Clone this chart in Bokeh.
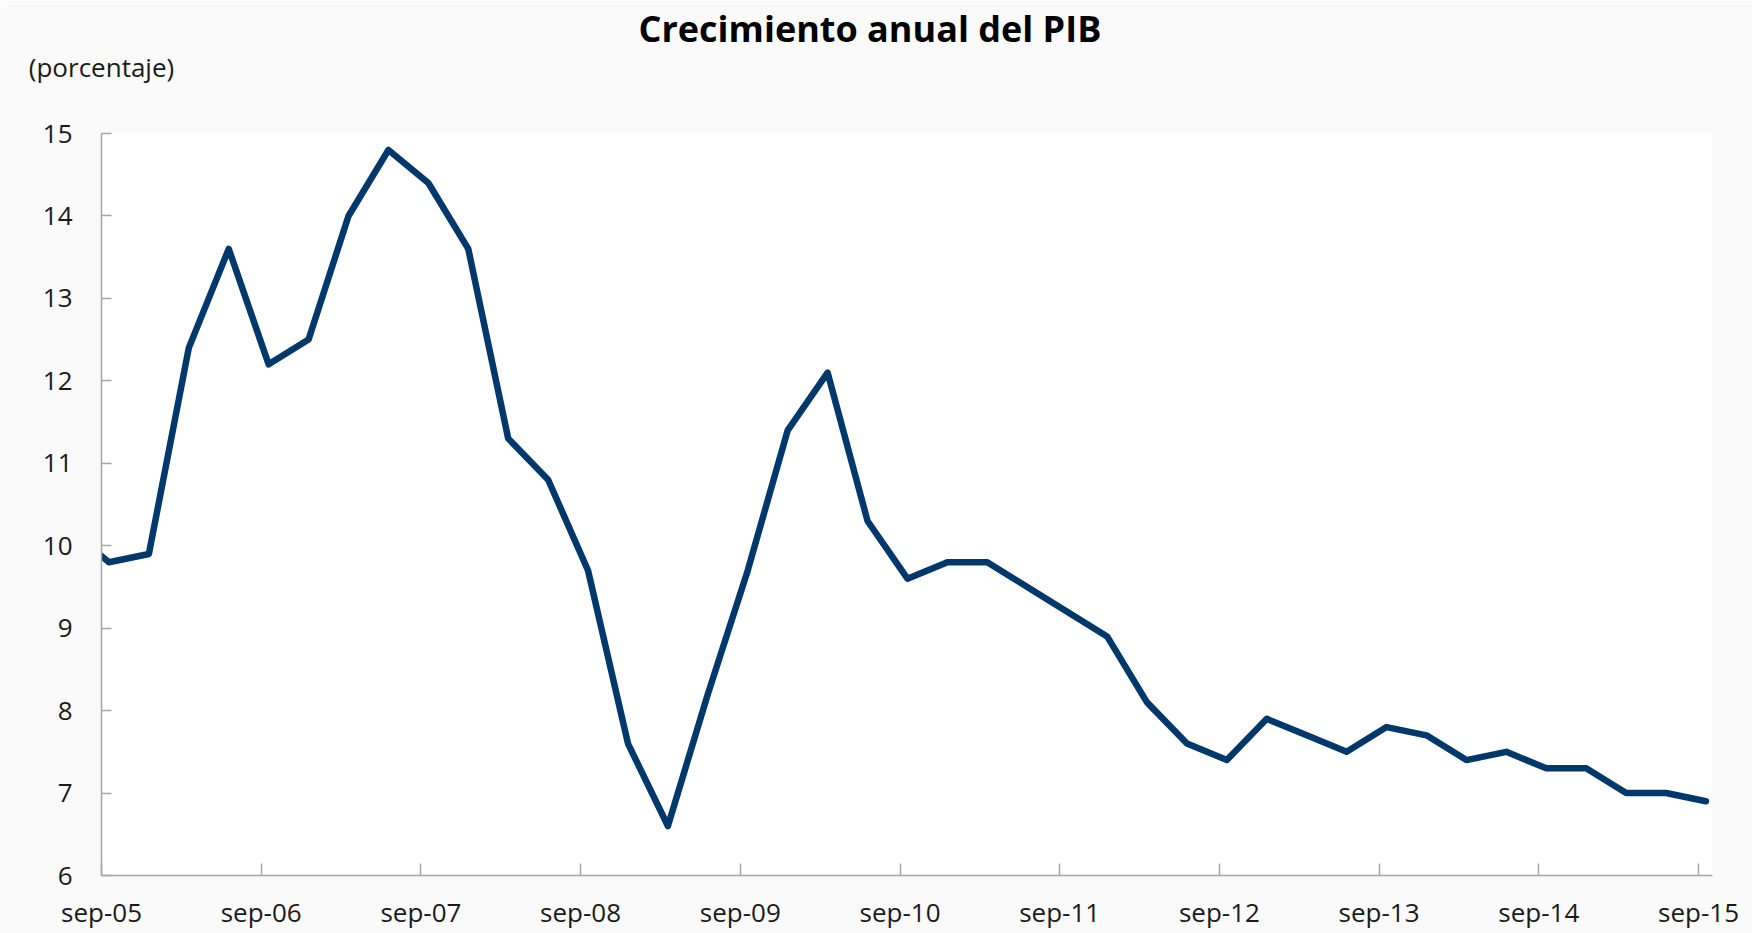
from bokeh.plotting import figure
from bokeh.models import Range1d, FixedTicker, Title, LinearAxis
from bokeh.embed import file_html
from bokeh.resources import INLINE

# Quarterly data (year-month of the quarter's last month)
quarters = ["2005-06", "2005-09", "2005-12", "2006-03", "2006-06", "2006-09", "2006-12",
            "2007-03", "2007-06", "2007-09", "2007-12", "2008-03", "2008-06", "2008-09",
            "2008-12", "2009-03", "2009-06", "2009-09", "2009-12", "2010-03", "2010-06",
            "2010-09", "2010-12", "2011-03", "2011-06", "2011-09", "2011-12", "2012-03",
            "2012-06", "2012-09", "2012-12", "2013-03", "2013-06", "2013-09", "2013-12",
            "2014-03", "2014-06", "2014-09", "2014-12", "2015-03", "2015-06", "2015-09"]
values = [10.2, 9.8, 9.9, 12.4, 13.6, 12.2, 12.5,
          14.0, 14.8, 14.4, 13.6, 11.3, 10.8, 9.7,
          7.6, 6.6, 8.2, 9.7, 11.4, 12.1, 10.3,
          9.6, 9.8, 9.8, 9.5, 9.2, 8.9, 8.1,
          7.6, 7.4, 7.9, 7.7, 7.5, 7.8, 7.7,
          7.4, 7.5, 7.3, 7.3, 7.0, 7.0, 6.9]
tick_labels = ["sep-05", "sep-06", "sep-07", "sep-08", "sep-09", "sep-10",
               "sep-11", "sep-12", "sep-13", "sep-14", "sep-15"]
y_ticks = [6, 7, 8, 9, 10, 11, 12, 13, 14, 15]
title_text = "Crecimiento anual del PIB"
unit_text = "(porcentaje)"

BASE_YEAR, BASE_MONTH = 2005, 9


def month_index(q, day_frac=0.0):
    y, m = map(int, q.split("-"))
    return (y - BASE_YEAR) * 12 + (m - BASE_MONTH) + day_frac


xs = [month_index(q, 0.56) for q in quarters]
x_ticks = [12 * i for i in range(len(tick_labels))]

FONT = "Open Sans"
TEXT = "#1a1a1a"
AXIS = "#a6a6a6"

p = figure(width=1752, height=933, output_backend="svg", toolbar_location=None,
           title=None,
           x_range=Range1d(x_ticks[0], x_ticks[-1] + 1.05),
           y_range=Range1d(6, 15),
           min_border_left=101, min_border_right=40,
           min_border_top=133, min_border_bottom=58)

p.background_fill_color = "white"
p.border_fill_color = "#fafafa"
p.outline_line_color = None
p.xgrid.visible = False
p.ygrid.visible = False

p.line(xs, values, line_color="#00386b", line_width=6.5,
       line_join="round", line_cap="round")

xa = p.xaxis[0]
xa.ticker = FixedTicker(ticks=x_ticks)
xa.major_label_overrides = {t: l for t, l in zip(x_ticks, tick_labels)}
xa.major_tick_in = 12
xa.major_label_standoff = 18

ya = p.yaxis[0]
ya.ticker = FixedTicker(ticks=y_ticks)
ya.major_tick_in = 10
ya.major_label_standoff = 29

for ax in (xa, ya):
    ax.axis_line_color = AXIS
    ax.axis_line_width = 1.5
    ax.major_tick_line_color = AXIS
    ax.major_tick_line_width = 1.5
    ax.major_tick_out = 0
    ax.minor_tick_line_color = None
    ax.major_label_text_font = FONT
    ax.major_label_text_font_size = "26px"
    ax.major_label_text_color = TEXT

# unit note above the plot area (label of an undecorated top axis)
unit_axis = LinearAxis(ticker=FixedTicker(ticks=[x_ticks[0]]),
                       major_label_overrides={x_ticks[0]: unit_text},
                       axis_line_color=None, major_tick_line_color=None,
                       minor_tick_line_color=None,
                       major_tick_in=0, major_tick_out=0,
                       major_label_standoff=49,
                       major_label_text_font=FONT,
                       major_label_text_font_size="26px",
                       major_label_text_color=TEXT)
p.add_layout(unit_axis, "above")

main = Title(text=title_text, align="left", offset=537,
             text_font=FONT, text_font_size="36px", text_font_style="bold",
             text_color="#000000", standoff=-14)
p.add_layout(main, "above")

open("out.html", "w").write(file_html(p, INLINE))
